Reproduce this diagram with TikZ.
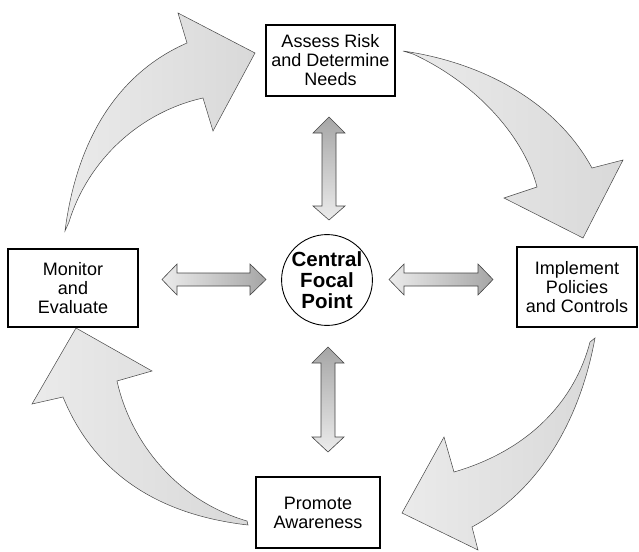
\documentclass[tikz,border=0pt]{standalone}
\usepackage{fontspec}
\setmainfont{Liberation Sans}
\begin{document}
\begin{tikzpicture}[x=1pt,y=-1pt,
  box/.style={draw,line width=1.5pt,fill=white,align=center,inner sep=0pt,
    font=\fontsize{18}{19}\selectfont},
  hub/.style={draw,circle,line width=0.9pt,fill=white,align=center,inner sep=0pt,
    minimum size=90pt,font=\bfseries\fontsize{20.5}{21}\selectfont},
  bigarrow/.style={draw=gray!55!black,line width=0.5pt,left color=gray!16,right color=gray!30},
  vdbl/.style={draw=gray!55!black,line width=0.6pt,top color=gray!70,bottom color=gray!15},
  hdbl/.style={draw=gray!55!black,line width=0.6pt,left color=gray!15,right color=gray!70}]
\useasboundingbox (0,0) rectangle (639,551);

% boxes
\node[box,minimum width=129pt,minimum height=71pt] (assess) at (330.5,60.5) {Assess Risk\\and Determine\\Needs};
\node[box,minimum width=120pt,minimum height=80pt] (implement) at (577,287) {Implement\\Policies\\and Controls};
\node[box,minimum width=130pt,minimum height=78pt] (monitor) at (73,288) {Monitor\\and\\Evaluate};
\node[box,minimum width=124pt,minimum height=71pt] (promote) at (318,512.5) {Promote\\Awareness};
\node[hub] (hub) at (327,280) {Central\\Focal\\Point};

% curved arrows
\draw[bigarrow] (65,231) .. controls (78,130) and (125,70) .. (187,43)
  -- (178,13) -- (255,53) -- (213,131) -- (203,98)
  .. controls (140,112) and (88,160) .. (69,222) -- cycle;
\draw[bigarrow] (403,51) .. controls (480,62) and (555,100) .. (592,168)
  -- (623,160) -- (583,238) -- (504,198) -- (537,187)
  .. controls (525,140) and (480,85) .. (413,54) -- cycle;
\draw[bigarrow] (595,338) .. controls (580,420) and (540,490) .. (472,527)
  -- (478,550) -- (402,513) -- (444,437) -- (454,472)
  .. controls (530,450) and (575,400) .. (590,342) -- cycle;
\draw[bigarrow] (76,328) -- (152,371) -- (117,381)
  .. controls (130,440) and (175,500) .. (247,521)
  -- (248,525) .. controls (160,515) and (95,475) .. (63,397)
  -- (32,404) -- cycle;

% double arrows
\shade[vdbl] (329,117) -- (345,133) -- (336,133) -- (336,206) -- (345,206) -- (329,220)
  -- (313,206) -- (322,206) -- (322,133) -- (313,133) -- cycle;
\shade[vdbl] (328,347) -- (344,363) -- (335,363) -- (335,437) -- (344,437) -- (328,452)
  -- (312,437) -- (321,437) -- (321,363) -- (312,363) -- cycle;
\shade[hdbl] (162,279.5) -- (177,264) -- (177,273) -- (250,273) -- (250,264) -- (266,279.5)
  -- (250,295) -- (250,286) -- (177,286) -- (177,295) -- cycle;
\shade[hdbl] (389,279.5) -- (404,264) -- (404,273) -- (478,273) -- (478,264) -- (493,279.5)
  -- (478,295) -- (478,286) -- (404,286) -- (404,295) -- cycle;
\end{tikzpicture}
\end{document}
